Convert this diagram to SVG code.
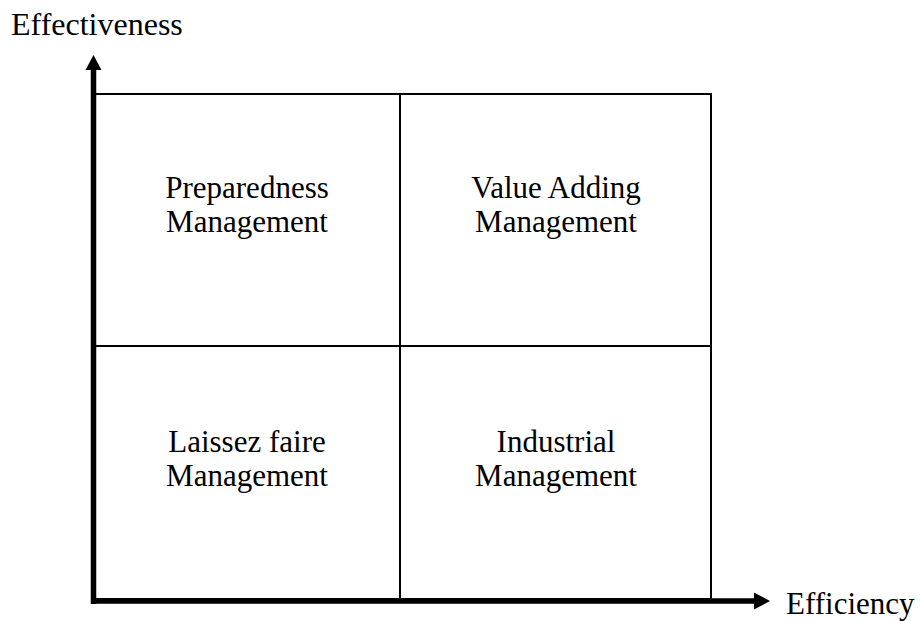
<svg xmlns="http://www.w3.org/2000/svg" width="920" height="621" viewBox="0 0 920 621">
  <style>
    text { font-family: "Liberation Serif", "Times New Roman", serif; font-size: 31px; fill: #000; }
    .q { text-anchor: middle; }
    .grid { stroke: #000; stroke-width: 2; fill: none; }
    .axis { stroke: #000; stroke-width: 5.5; fill: none; }
  </style>
  <rect width="920" height="621" fill="#fff"/>
  <g id="grid">
    <rect class="grid" x="94" y="94" width="617" height="505"/>
    <line class="grid" x1="400" y1="94" x2="400" y2="599"/>
    <line class="grid" x1="94" y1="346" x2="711" y2="346"/>
  </g>
  <g id="q-preparedness">
    <text class="q" x="247" y="198">Preparedness</text>
    <text class="q" x="247" y="232">Management</text>
  </g>
  <g id="q-value-adding">
    <text class="q" x="556" y="198">Value Adding</text>
    <text class="q" x="556" y="232">Management</text>
  </g>
  <g id="q-laissez-faire">
    <text class="q" x="247" y="452">Laissez faire</text>
    <text class="q" x="247" y="486">Management</text>
  </g>
  <g id="q-industrial">
    <text class="q" x="556" y="452">Industrial</text>
    <text class="q" x="556" y="486">Management</text>
  </g>
  <g id="connectors">
    <line class="axis" x1="93.5" y1="604" x2="93.5" y2="68"/>
    <polygon points="93.5,55 85.5,70 101.5,70" fill="#000"/>
    <line class="axis" x1="91" y1="601" x2="756" y2="601"/>
    <polygon points="770,601 754,592.5 754,609.5" fill="#000"/>
  </g>
  <g id="label-y">
    <text x="11" y="35" style="font-size:32px">Effectiveness</text>
  </g>
  <g id="label-x">
    <text x="786" y="614">Efficiency</text>
  </g>
</svg>
